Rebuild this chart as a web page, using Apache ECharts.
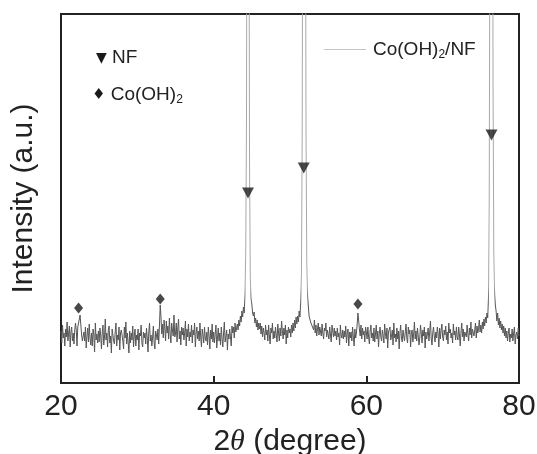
<!DOCTYPE html>
<html>
<head>
<meta charset="utf-8">
<script src="https://cdn.jsdelivr.net/npm/echarts@6/dist/echarts.min.js"></script>
<style>
  html, body { margin: 0; padding: 0; background: #fff; }
  #chart { width: 537px; height: 454px; }
</style>
</head>
<body>
<div id="chart"></div>
<script>
// 2θ sampling grid (degrees)
const twoThetaStart = 20;
const twoThetaStep = 0.1;

const intensity = [
  52,40,58,45,50,37,54,46,61,42, // 20
  44,57,36,51,56,42,50,39,53,60, // 21
  53,37,56,60,62,68,58,48,42,40, // 22
  51,42,56,35,47,55,41,59,45,38, // 23
  50,37,54,48,31,60,43,49,40,52, // 24
  41,55,48,34,50,58,38,46,64,43, // 25
  50,36,53,57,40,47,30,54,48,42, // 26
  39,51,60,37,48,43,56,33,50,53, // 27
  48,42,34,56,45,61,39,50,40,30, // 28
  52,40,50,43,57,36,47,54,37,48, // 29
  43,54,33,50,47,58,40,36,51,45, // 30
  50,39,55,45,31,51,60,42,48,37, // 31
  46,57,40,34,52,48,43,54,39,58, // 32
  78,66,49,59,45,63,55,42,62,50, // 33
  57,44,65,49,40,60,53,47,68,46, // 34
  49,60,41,55,64,44,52,38,56,48, // 35
  55,43,50,62,37,54,46,59,42,51, // 36
  46,58,40,53,48,60,36,50,56,44, // 37
  52,42,60,46,36,54,48,40,56,45, // 38
  42,51,38,56,47,34,53,44,59,41, // 39
  51,40,49,58,35,45,55,42,50,38, // 40
  56,44,36,50,61,41,47,53,33,49, // 41
  44,54,46,37,57,50,56,45,60,51, // 42
  52,59,53,63,57,67,61,72,66,76, // 43
  70,88,130,260,700,900,600,220,105,84, // 44
  79,70,67,71,60,65,56,63,53,60, // 45
  54,60,49,57,46,55,50,43,58,48, // 46
  53,42,58,47,39,55,50,60,44,52, // 47
  45,56,48,41,59,50,42,55,47,62, // 48
  52,44,55,48,58,39,53,45,56,50, // 49
  54,46,58,50,60,52,63,55,66,59, // 50
  67,61,72,66,80,110,250,650,900,900, // 51
  600,250,120,88,77,67,68,61,63,57, // 52
  59,53,63,50,58,47,54,60,48,56, // 53
  56,47,59,50,44,55,52,60,46,53, // 54
  53,44,56,48,41,58,52,46,55,47, // 55
  52,43,55,46,50,38,58,48,45,53, // 56
  44,52,46,57,40,50,54,37,51,45, // 57
  51,42,56,46,37,54,45,50,59,70, // 58
  62,53,47,58,44,55,48,52,41,56, // 59
  51,44,56,46,39,52,58,45,50,42, // 60
  55,41,49,58,44,52,36,50,56,46, // 61
  42,53,47,40,59,49,44,55,35,51, // 62
  50,56,43,47,53,38,60,45,49,41, // 63
  55,44,52,34,50,58,45,41,53,47, // 64
  42,51,59,45,40,56,49,53,36,50, // 65
  53,41,49,61,44,52,42,55,47,38, // 66
  45,58,50,40,53,47,56,35,51,44, // 67
  49,55,42,51,62,45,38,50,56,47, // 68
  41,51,45,56,49,36,55,44,53,59, // 69
  46,42,53,48,57,43,51,39,60,50, // 70
  54,45,50,40,59,48,52,43,56,46, // 71
  43,56,48,37,51,60,46,54,42,51, // 72
  52,46,58,49,42,55,48,61,45,54, // 73
  56,47,53,60,45,57,50,54,63,51, // 74
  58,50,61,54,64,57,66,60,70,65, // 75
  85,180,500,850,900,700,300,130,92,78, // 76
  72,62,70,58,65,55,62,53,59,50, // 77
  57,47,55,45,52,42,50,55,41,49, // 78
  45,54,42,50,56,39,48,51,44,55, // 79
  47                              // 80
];

// Peak markers
const nfPeakX = [44.5, 51.8, 76.4];
const nfMarkerY = [190, 215, 248];
const cohPeakX = [22.3, 33.0, 58.9];
const cohMarkerY = [75, 84, 79];

// Axis
const xMin = 20, xMax = 80, xInterval = 20;
const yMin = 0, yMax = 369;

const FONT = "'Liberation Sans', Arial, Helvetica, sans-serif";

const lineData = intensity.map((v, i) => [+(twoThetaStart + i * twoThetaStep).toFixed(1), v]);
const nfData = nfPeakX.map((x, i) => [x, nfMarkerY[i]]);
const cohData = cohPeakX.map((x, i) => [x, cohMarkerY[i]]);

// Line colour: thin peak spikes render light grey, noisy baseline dark grey
const lineGradient = new echarts.graphic.LinearGradient(0, 0, 0, 454, [
  { offset: 0, color: '#a8a8a8' },
  { offset: 0.63, color: '#a8a8a8' },
  { offset: 0.67, color: '#555555' },
  { offset: 1, color: '#555555' }
], true);

const chart = echarts.init(document.getElementById('chart'), null, { renderer: 'canvas' });

chart.setOption({
  animation: false,
  backgroundColor: '#fff',
  grid: {
    left: 61, right: 18, top: 14, bottom: 71,
    outerBoundsMode: 'none', containLabel: false,
    show: true, borderColor: '#222', borderWidth: 2, backgroundColor: 'transparent'
  },
  legend: {
    data: ['Co(OH)2/NF'],
    left: 324, top: 40, padding: 0,
    icon: 'rect',
    itemWidth: 42, itemHeight: 1,
    itemStyle: { color: '#c4c4c4', borderWidth: 0 },
    formatter: () => '{a|Co(OH)}{s|2}{a|/NF}',
    textStyle: {
      color: '#222', fontFamily: FONT, fontSize: 19, padding: [0, 0, 0, 2],
      rich: {
        a: { fontSize: 19, fontFamily: FONT, color: '#222' },
        s: { fontSize: 12, fontFamily: FONT, color: '#222', padding: [10, 0, 0, 0] }
      }
    }
  },
  xAxis: {
    type: 'value', min: xMin, max: xMax, interval: xInterval,
    axisLine: { show: true, lineStyle: { color: '#222', width: 2 } },
    axisTick: { show: true, inside: true, length: 7, lineStyle: { color: '#222', width: 2 } },
    axisLabel: { fontSize: 30, color: '#222', fontFamily: FONT, margin: 9 },
    splitLine: { show: false },
    name: '{n|2}{t|θ}{n| (degree)}',
    nameLocation: 'middle', nameGap: 41,
    nameTextStyle: {
      color: '#222', fontSize: 30, fontFamily: FONT,
      rich: {
        n: { fontSize: 30, fontFamily: FONT, color: '#222' },
        t: { fontSize: 30, fontFamily: "'Liberation Serif', 'DejaVu Serif', serif", fontStyle: 'italic', color: '#222' }
      }
    }
  },
  yAxis: {
    type: 'value', min: yMin, max: yMax,
    axisLine: { show: true, lineStyle: { color: '#222', width: 2 } },
    axisTick: { show: false },
    axisLabel: { show: false },
    splitLine: { show: false },
    name: 'Intensity (a.u.)',
    nameLocation: 'middle', nameGap: 22,
    nameTextStyle: { color: '#222', fontSize: 30, fontFamily: FONT }
  },
  graphic: [
    {
      type: 'text', x: 96, y: 58,
      style: {
        text: '{m|▼}{t| NF}', verticalAlign: 'middle', align: 'left',
        rich: {
          m: { fontSize: 14, fontFamily: "'DejaVu Sans', sans-serif", fill: '#1a1a1a' },
          t: { fontSize: 19, fontFamily: FONT, fill: '#222' }
        }
      }
    },
    {
      type: 'text', x: 92, y: 95,
      style: {
        text: '{m|♦}{t| Co(OH)}{s|2}', verticalAlign: 'middle', align: 'left',
        rich: {
          m: { fontSize: 15, fontFamily: "'DejaVu Sans', sans-serif", fill: '#1a1a1a' },
          t: { fontSize: 19, fontFamily: FONT, fill: '#222' },
          s: { fontSize: 12, fontFamily: FONT, fill: '#222', padding: [10, 0, 0, 0] }
        }
      }
    }
  ],
  series: [
    {
      name: 'Co(OH)2/NF', type: 'line', data: lineData,
      symbol: 'none', showSymbol: false, clip: true, silent: true,
      lineStyle: { width: 1, color: lineGradient },
      itemStyle: { color: '#555' },
      z: 2
    },
    {
      name: 'NF', type: 'scatter', data: nfData,
      symbol: 'triangle', symbolRotate: 180, symbolSize: [12, 11],
      itemStyle: { color: '#1a1a1a' }, silent: true, z: 3
    },
    {
      name: 'Co(OH)2', type: 'scatter', data: cohData,
      symbol: 'diamond', symbolSize: [9, 11],
      itemStyle: { color: '#1a1a1a' }, silent: true, z: 3
    }
  ]
});
</script>
</body>
</html>
